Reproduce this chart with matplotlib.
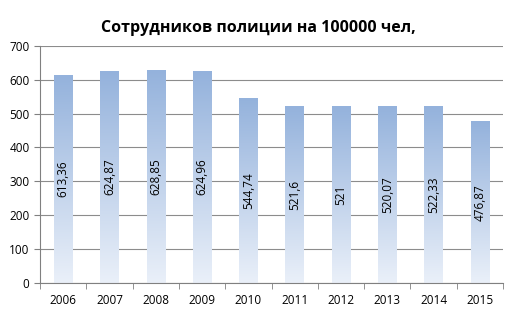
import numpy as np
import matplotlib.pyplot as plt
from matplotlib.colors import LinearSegmentedColormap

years = ["2006", "2007", "2008", "2009", "2010", "2011", "2012", "2013", "2014", "2015"]
values = [613.36, 624.87, 628.85, 624.96, 544.74, 521.6, 521, 520.07, 522.33, 476.87]
labels = ["613,36", "624,87", "628,85", "624,96", "544,74", "521,6", "521", "520,07", "522,33", "476,87"]

plt.rcParams["font.family"] = ["Open Sans", "DejaVu Sans"]

fig = plt.figure(figsize=(5.16, 3.14), dpi=100)
ax = fig.add_axes([0.0775, 0.099, 0.8975, 0.755])

cmap = LinearSegmentedColormap.from_list("bar", ["#eaf0f9", "#94b2dc"])
grad = np.linspace(0, 1, 256).reshape(-1, 1)
x = np.arange(len(years))
w = 0.4
for xi, v, lab in zip(x, values, labels):
    ax.imshow(grad, cmap=cmap, origin="lower", aspect="auto",
              extent=[xi - w / 2, xi + w / 2, 0, v], zorder=2)
    ax.text(xi, v / 2, lab, rotation=90, ha="center", va="center",
            fontsize=8.5, color="black", zorder=3)

ax.set_xlim(-0.5, len(years) - 0.5)
ax.set_ylim(0, 700)
ax.set_yticks(range(0, 701, 100))
ax.set_xticks(x)
ax.set_xticklabels(years)
ax.set_xticks(np.arange(-0.5, len(years), 1), minor=True)
ax.tick_params(axis="x", which="major", length=0, pad=8, labelsize=8.5)
ax.tick_params(axis="x", which="minor", length=4, color="#808080", direction="out")
ax.tick_params(axis="y", length=4, color="#808080", labelsize=8.5)
ax.grid(axis="y", color="#8c8c8c", linewidth=0.8, zorder=1)
ax.set_axisbelow(True)
for s in ["top", "right"]:
    ax.spines[s].set_visible(False)
for s in ["left", "bottom"]:
    ax.spines[s].set_color("#808080")

fig.suptitle("Сотрудников полиции на 100000 чел,", fontsize=11.5, fontweight="bold", y=0.935)

fig.savefig("out.png", dpi=100)
